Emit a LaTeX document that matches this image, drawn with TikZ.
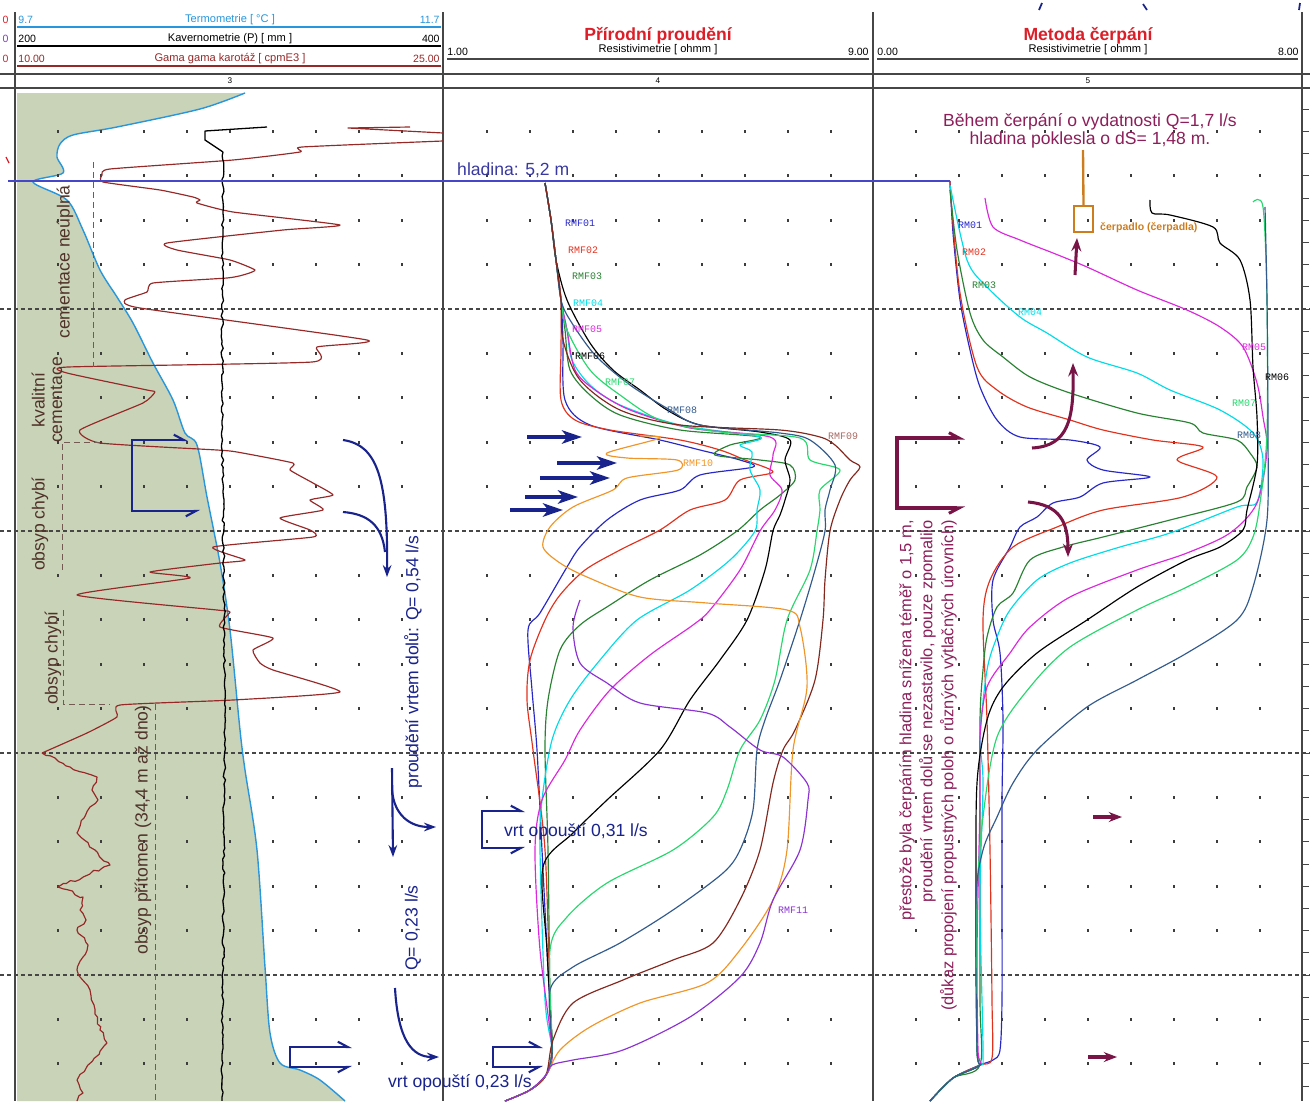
\documentclass[tikz,border=0pt]{standalone}
\usepackage{fontspec}
\setmainfont{Liberation Sans}
\setmonofont{Liberation Mono}
\usetikzlibrary{arrows.meta,decorations.pathmorphing}

\definecolor{thermo}{RGB}{40,150,220}
\definecolor{gamma}{RGB}{150,40,40}
\definecolor{obsypfill}{RGB}{201,211,184}
\definecolor{flowblue}{RGB}{25,35,140}
\definecolor{pumpcol}{RGB}{120,20,70}
\definecolor{pumptext}{RGB}{140,30,90}
\definecolor{pumpbox}{RGB}{205,125,30}
\definecolor{hladcol}{RGB}{70,70,200}
\definecolor{titlered}{RGB}{220,30,40}
\definecolor{labdark}{RGB}{80,50,40}
\definecolor{framegray}{RGB}{70,70,70}
\definecolor{dotcol}{RGB}{60,60,60}
\definecolor{cblue}{RGB}{40,40,200}
\definecolor{cred}{RGB}{225,50,30}
\definecolor{cdgreen}{RGB}{40,130,50}
\definecolor{ccyan}{RGB}{0,220,230}
\definecolor{cmag}{RGB}{220,40,220}
\definecolor{clgreen}{RGB}{40,215,110}
\definecolor{csteel}{RGB}{50,90,140}
\definecolor{cbrown}{RGB}{130,40,30}
\definecolor{corange}{RGB}{240,150,40}
\definecolor{cpurple}{RGB}{140,50,210}

\begin{document}
\begin{tikzpicture}[x=0.3mm, y=-0.3mm,
  hdr/.style={font=\fontsize{9.5}{11}\selectfont, inner sep=1pt},
  val/.style={font=\fontsize{9}{10}\selectfont, inner sep=1pt},
  ttl/.style={font=\fontsize{15}{17}\selectfont\bfseries, text=titlered, inner sep=1pt},
  rmf/.style={font=\fontsize{8.5}{9}\selectfont\ttfamily, anchor=west, inner sep=0pt},
  note/.style={font=\fontsize{15}{17}\selectfont, inner sep=0pt},
  curve/.style={line width=1pt, line join=round},
  frame/.style={draw=framegray, line width=1.2pt},
  level/.style={draw=framegray, line width=1.3pt, dash pattern=on 1.2mm off 0.9mm},
  zone/.style={draw=labdark!80, line width=0.8pt, dash pattern=on 1.8mm off 1.2mm},
  flowline/.style={draw=flowblue, line width=1.8pt},
  flowtip/.style={-{Stealth[length=3.6mm,width=2.6mm,inset=1.2mm]}},
  bigflow/.style={draw=flowblue, line width=3.2pt, -{Stealth[length=6mm,width=4mm,inset=1.6mm]}},
  barbup/.style={-{Straight Barb[left,length=3mm,width=3.2mm]}},
  barbdown/.style={-{Straight Barb[right,length=3mm,width=3.2mm]}},
  pumpline/.style={draw=pumpcol, line width=2.6pt},
  pumptip/.style={-{Stealth[length=4mm,width=3mm,inset=1.4mm]}}]

\useasboundingbox (0,0) rectangle (1310,1101);

%obsyp fill and termometrie
\fill[obsypfill] (17,93) -- plot[smooth, tension=0.5] coordinates {(245,93) (200,109) (117,127) (73,135) (60,144) (57,157) (63,173) (33,182) (67,200) (83,230) (100,270) (117,297) (133,323) (153,363) (173,400) (185,433) (197,445) (207,497) (220,563) (230,630) (240,730) (245,770) (257,850) (265,967) (270,1033) (280,1063) (300,1070) (320,1080) (345,1101)} -- (17,1101) -- cycle;
\draw[curve, thermo, line width=1.2pt] plot[smooth, tension=0.5] coordinates {(245,93) (200,109) (117,127) (73,135) (60,144) (57,157) (63,173) (33,182) (67,200) (83,230) (100,270) (117,297) (133,323) (153,363) (173,400) (185,433) (197,445) (207,497) (220,563) (230,630) (240,730) (245,770) (257,850) (265,967) (270,1033) (280,1063) (300,1070) (320,1080) (345,1101)};

%grid dots
\foreach \off in {0,429,858}
  \foreach \i in {0,...,8}
    \foreach \k in {0,1,2,3,5,6,7,8,10,11,12,13,15,16,17,18,20,21}
      \fill[dotcol] ({58+\off+43*\i-0.8},{131.4+44.4*\k-1.6}) rectangle ++(1.6,3.2);

%depth levels
\foreach \y in {309,531,753,975}
  \draw[level] (0,\y) -- (1310,\y);

%frame
\foreach \x in {15,443,873,1302}
  \draw[frame] (\x,12) -- (\x,1101);
\draw[frame] (0,74) -- (1310,74);
\draw[frame] (0,88) -- (1310,88);
\foreach \k in {1,...,45}
  \draw[framegray, line width=0.8pt] (1302,{87+22.2*\k}) -- ++(7,0);

%header track 3
\draw[thermo, line width=0.9pt] (17,27) -- (441,27);
\draw[black, line width=0.9pt] (17,46) -- (441,46);
\draw[gamma, line width=0.9pt] (17,66) -- (441,66);
\node[val, text=thermo, anchor=west] (tmin) at (17,20) {9.7};
\node[hdr, text=thermo] (tname) at (230,20) {Termometrie [ °C ]};
\node[val, text=thermo, anchor=east] (tmax) at (441,20) {11.7};
\node[val, anchor=west] (kmin) at (17,39) {200};
\node[hdr] (kname) at (230,39) {Kavernometrie (P) [ mm ]};
\node[val, anchor=east] (kmax) at (441,39) {400};
\node[val, text=gamma, anchor=west] (gmin) at (17,59) {10.00};
\node[hdr, text=gamma] (gname) at (230,59) {Gama gama karotáž [ cpmE3 ]};
\node[val, text=gamma, anchor=east] (gmax) at (441,59) {25.00};
\node[val, text=titlered, anchor=east] (cut1) at (10,20) {0};
\node[val, text=cpurple, anchor=east] (cut2) at (10,39) {0};
\node[val, text=titlered, anchor=east] (cut3) at (10,59) {0};

%header track 4
\draw[framegray, line width=0.9pt] (447,59) -- (869,59);
\node[ttl] (natural) at (658,36) {Přírodní proudění};
\node[hdr] (rname4) at (658,50) {Resistivimetrie [ ohmm ]};
\node[val, anchor=west] (rmin4) at (446,52) {1.00};
\node[val, anchor=east] (rmax4) at (870,52) {9.00};

%header track 5
\draw[framegray, line width=0.9pt] (877,59) -- (1298,59);
\node[ttl] (pumping) at (1088,36) {Metoda čerpání};
\node[hdr] (rname5) at (1088,50) {Resistivimetrie [ ohmm ]};
\node[val, anchor=west] (rmin5) at (876,52) {0.00};
\node[val, anchor=east] (rmax5) at (1300,52) {8.00};

%track numbers
\node[val, font=\fontsize{7}{8}\selectfont] (no3) at (230,81) {3};
\node[val, font=\fontsize{7}{8}\selectfont] (no4) at (658,81) {4};
\node[val, font=\fontsize{7}{8}\selectfont] (no5) at (1088,81) {5};
\draw[flowblue, line width=1.5pt] (1042,3) -- (1039,10);
\draw[flowblue, line width=1.5pt] (1143,4) -- (1147,10);
\draw[flowblue, line width=1.5pt] (1300,3) -- (1299,10);

%gama gama
\draw[curve, gamma] (410,127) -- (348,128) -- (443,133);
\draw[curve, gamma] plot[smooth, tension=0.3] coordinates {(443,141) (302,147) (300,152) (233,160) (110,169) (102,175) (103,182) (160,190) (193,197) (200,200) (197,203) (233,212) (340,225) (283,230) (167,243) (177,250) (230,260) (255,270) (243,275) (227,278) (153,283) (147,292) (125,300) (140,308) (367,340) (317,347) (312,362) (68,367) (67,373) (147,390) (155,392) (143,403) (80,430) (100,443) (217,450) (237,452) (293,463) (290,470) (313,483) (333,495) (310,500) (323,510) (280,518) (310,530) (313,537) (213,547) (245,560) (220,563) (150,572) (190,578) (77,595) (217,610) (230,612) (220,627) (273,638) (253,650) (260,663) (273,670) (340,692) (233,700) (120,705) (117,717) (87,733) (42,753)};
\draw[curve, gamma, decorate, decoration={random steps, segment length=1.4mm, amplitude=0.5mm}] (42,753) -- (70,767) -- (97,777) -- (92,790) -- (98,800) -- (90,807) -- (84,818) -- (77,833) -- (95,850) -- (110,865) -- (58,887) -- (83,897) -- (80,910) -- (86,920) -- (77,930) -- (88,945) -- (83,957) -- (77,970) -- (90,990) -- (94,1005) -- (100,1030) -- (107,1043) -- (77,1080) -- (83,1093) -- (77,1101);

%kavernometrie
\draw[curve, black, line width=1.1pt] (267,127) -- (205,131) -- (205,140) -- (223,152);
\draw[curve, black, line width=1.1pt, decorate, decoration={random steps, segment length=1.2mm, amplitude=0.35mm}] (223,152) -- (222,400) -- (225,700) -- (222,1101);

%hladina
\draw[hladcol, line width=1pt] (8,181) -- (950,181);
\draw[titlered, line width=1pt] (6,157) -- (9,163);
\node[note, text=hladcol!80!black, anchor=west] (hladina) at (457,170) {hladina: 5,2 m};

%zones
\draw[zone] (93,162) -- (93,367);
\draw[zone] (100,442) -- (62,442) -- (62,570);
\draw[zone] (63,610) -- (63,704) -- (110,704);
\draw[zone] (155,704) -- (155,1101);
\node[note, rotate=90, text=labdark] (cemneu) at (65,262) {cementace neúplná};
\node[note, rotate=90, text=labdark, align=center, font=\fontsize{15}{15}\selectfont] (cemok) at (47,400) {kvalitní\\cementace};
\node[note, rotate=90, text=labdark] (obsyp1) at (40,524) {obsyp chybí};
\node[note, rotate=90, text=labdark] (obsyp2) at (53,658) {obsyp chybí};
\node[note, rotate=90, text=labdark] (obsyp3) at (143,830) {obsyp přítomen (34,4 m až dno)};

%flow in track 3
\draw[flowline, barbup] (132,475) -- (132,440) -- (188,440);
\draw[flowline, barbdown] (132,475) -- (132,511) -- (200,511);
\draw[flowline, flowtip] (343,440) .. controls (378,445) and (388,480) .. (387,577);
\draw[flowline] (343,512) .. controls (368,514) and (382,525) .. (385,552);
\draw[flowline, flowtip] (392,768) -- (393,857);
\draw[flowline, flowtip] (392,790) .. controls (394,815) and (410,827) .. (436,827);
\draw[flowline, flowtip] (395,988) .. controls (398,1040) and (412,1057) .. (439,1057);
\draw[flowline, barbup] (290,1057) -- (290,1047) -- (352,1047);
\draw[flowline, barbdown] (290,1057) -- (290,1067) -- (352,1067);
\node[note, rotate=90, text=flowblue] (down054) at (413,662) {proudění vrtem dolů: Q= 0,54 l/s};
\node[note, rotate=90, text=flowblue] (down023) at (413,928) {Q= 0,23 l/s};
\node[note, text=flowblue] (out023) at (460,1083) {vrt opouští 0,23 l/s};

%RMF curves
\draw[curve, cblue] plot[smooth, tension=0.5] coordinates {(545,183) (551,220) (556,260) (561,300) (563,340) (565,400) (590,425) (660,440) (700,450) (740,460) (753,467) (700,475) (680,490) (640,500) (607,520) (580,547) (567,567) (540,613) (528,630) (532,690) (537,750) (542,850) (548,970) (552,1050) (546,1075) (530,1090) (505,1101)};
\draw[curve, cred] plot[smooth, tension=0.5] coordinates {(545,183) (551,220) (556,260) (561,300) (561,350) (561,400) (575,420) (610,430) (680,440) (720,450) (745,460) (773,472) (740,480) (725,500) (690,510) (660,530) (620,550) (585,570) (560,595) (545,620) (530,660) (527,700) (533,750) (545,850) (550,1000) (552,1050) (546,1075) (530,1090) (505,1101)};
\draw[curve, cdgreen] plot[smooth, tension=0.5] coordinates {(545,183) (551,220) (556,260) (561,300) (565,330) (570,370) (590,395) (620,415) (680,430) (760,437) (730,445) (715,455) (760,460) (790,465) (795,480) (780,495) (760,510) (737,531) (700,555) (650,580) (610,605) (580,625) (560,650) (548,700) (545,750) (548,850) (550,1000) (552,1050) (546,1075) (530,1090) (505,1101)};
\draw[curve, ccyan] plot[smooth, tension=0.5] coordinates {(545,183) (551,220) (556,260) (561,300) (567,330) (572,360) (590,385) (620,405) (680,425) (760,437) (740,445) (752,452) (750,470) (760,490) (757,510) (755,531) (730,560) (690,590) (637,620) (600,660) (570,700) (552,740) (542,800) (540,850) (545,1000) (552,1050) (546,1075) (530,1090) (505,1101)};
\draw[curve, cmag] plot[smooth, tension=0.5] coordinates {(545,183) (551,220) (556,260) (561,300) (567,330) (575,370) (595,390) (630,410) (690,428) (770,437) (773,455) (770,475) (782,490) (775,510) (760,531) (740,570) (710,610) (693,625) (650,655) (610,690) (580,730) (565,760) (542,800) (535,850) (540,950) (552,1050) (546,1075) (530,1090) (505,1101)};
\draw[curve, black] plot[smooth, tension=0.5] coordinates {(545,183) (551,220) (556,260) (567,300) (590,343) (613,370) (640,390) (667,410) (700,425) (760,432) (790,440) (785,460) (790,480) (785,500) (780,515) (773,531) (765,570) (747,620) (720,660) (690,700) (660,750) (607,800) (573,833) (543,867) (547,950) (552,1050) (546,1075) (530,1090) (505,1101)};
\draw[curve, clgreen] plot[smooth, tension=0.5] coordinates {(545,183) (551,220) (556,260) (561,300) (567,330) (590,370) (620,395) (660,420) (720,432) (800,438) (810,460) (840,470) (820,490) (820,510) (817,531) (810,570) (787,620) (775,680) (760,720) (740,750) (727,790) (713,817) (673,850) (607,883) (567,917) (550,950) (552,1050) (546,1075) (530,1090) (505,1101)};
\draw[curve, csteel] plot[smooth, tension=0.5] coordinates {(545,183) (551,220) (556,260) (561,300) (570,320) (595,355) (630,385) (670,410) (700,425) (780,433) (810,440) (835,465) (830,490) (825,510) (825,531) (815,570) (800,620) (780,680) (765,720) (757,750) (753,810) (740,850) (723,873) (673,910) (620,943) (573,967) (550,990) (552,1050) (546,1075) (530,1090) (505,1101)};
\draw[curve, cbrown] plot[smooth, tension=0.5] coordinates {(545,183) (551,220) (556,260) (561,300) (563,340) (580,380) (620,410) (680,425) (780,430) (820,437) (835,445) (850,460) (860,467) (850,480) (840,500) (830,531) (825,580) (823,620) (815,680) (795,730) (783,750) (773,783) (760,850) (740,900) (713,943) (673,960) (623,980) (573,1003) (553,1040) (546,1075) (530,1090) (505,1101)};
\draw[curve, corange] plot[smooth, tension=0.5] coordinates {(640,436) (660,438) (607,453) (627,458) (677,460) (678,470) (627,478) (613,490) (573,507) (550,527) (543,547) (560,563) (587,577) (640,597) (707,603) (787,610) (800,627) (807,687) (793,750) (787,850) (773,900) (740,950) (707,983) (640,1003) (590,1027) (560,1050) (546,1075) (530,1090) (505,1101)};
\draw[curve, cpurple] plot[smooth, tension=0.5] coordinates {(580,600) (573,627) (580,663) (607,683) (640,703) (707,713) (730,727) (760,750) (783,757) (807,783) (808,800) (800,850) (773,900) (760,943) (740,977) (690,1017) (623,1050) (573,1060) (552,1065) (546,1075) (530,1090) (505,1101)};

%RMF labels
\node[rmf, text=cblue] (rmf01) at (565,223) {RMF01};
\node[rmf, text=cred] (rmf02) at (568,250) {RMF02};
\node[rmf, text=cdgreen] (rmf03) at (572,276) {RMF03};
\node[rmf, text=ccyan] (rmf04) at (573,303) {RMF04};
\node[rmf, text=cmag] (rmf05) at (572,329) {RMF05};
\node[rmf, text=black] (rmf06) at (575,356) {RMF06};
\node[rmf, text=clgreen] (rmf07) at (605,382) {RMF07};
\node[rmf, text=csteel] (rmf08) at (667,410) {RMF08};
\node[rmf, text=cbrown!70] (rmf09) at (828,436) {RMF09};
\node[rmf, text=corange] (rmf10) at (683,463) {RMF10};
\node[rmf, text=cpurple] (rmf11) at (778,910) {RMF11};

%flow in track 4
\draw[bigflow] (527,437) -- (582,437);
\draw[bigflow] (557,463) -- (617,463);
\draw[bigflow] (540,478) -- (610,478);
\draw[bigflow] (525,497) -- (578,497);
\draw[bigflow] (510,510) -- (563,510);
\draw[flowline, barbup] (482,830) -- (482,811) -- (525,811);
\draw[flowline, barbdown] (482,830) -- (482,848) -- (525,848);
\draw[flowline, barbup] (493,1057) -- (493,1047) -- (543,1047);
\draw[flowline, barbdown] (493,1057) -- (493,1067) -- (543,1067);
\node[note, text=flowblue] (out031) at (576,832) {vrt opouští 0,31 l/s};

%RM curves
\draw[curve, cblue] plot[smooth, tension=0.5] coordinates {(950,181) (953,233) (960,300) (970,350) (980,387) (997,420) (1020,437) (1070,440) (1100,447) (1087,460) (1103,470) (1150,477) (1103,483) (1080,497) (1053,503) (1037,517) (1020,527) (1010,547) (993,580) (993,620) (1000,653) (1003,720) (1002,800) (1002,900) (1002,1000) (1000,1050) (993,1060) (980,1065) (953,1078) (930,1101)};
\draw[curve, cred] plot[smooth, tension=0.5] coordinates {(950,181) (951,200) (960,293) (977,367) (997,390) (1027,407) (1070,420) (1103,430) (1153,440) (1203,447) (1177,460) (1217,477) (1183,497) (1103,510) (1057,527) (1013,547) (990,580) (983,620) (987,720) (990,850) (992,1000) (992,1058) (980,1065) (953,1078) (930,1101)};
\draw[curve, cdgreen] plot[smooth, tension=0.5] coordinates {(950,190) (957,250) (970,313) (983,340) (1003,357) (1030,377) (1070,393) (1137,413) (1190,423) (1203,433) (1237,440) (1250,453) (1257,467) (1247,487) (1237,502) (1170,520) (1103,537) (1063,547) (1030,560) (1013,593) (997,607) (987,637) (983,670) (980,720) (980,850) (980,1000) (980,1065) (953,1078) (930,1101)};
\draw[curve, ccyan] plot[smooth, tension=0.5] coordinates {(950,185) (967,260) (987,287) (1020,317) (1047,333) (1087,357) (1137,373) (1170,390) (1220,410) (1253,433) (1263,460) (1257,502) (1237,507) (1170,533) (1120,547) (1070,563) (1037,580) (1010,610) (997,637) (987,670) (980,737) (983,783) (980,900) (983,1050) (980,1065) (953,1078) (930,1101)};
\draw[curve, cmag] plot[smooth, tension=0.5] coordinates {(985,198) (993,227) (1020,240) (1053,253) (1087,267) (1137,290) (1187,310) (1220,327) (1243,347) (1257,383) (1263,417) (1267,450) (1257,503) (1230,533) (1187,553) (1137,570) (1070,597) (1030,627) (1010,653) (987,687) (980,737) (980,800) (977,950) (978,1050) (980,1065) (953,1078) (930,1101)};
\draw[curve, black] plot[smooth, tension=0.5] coordinates {(1150,200) (1152,213) (1170,215) (1213,227) (1220,243) (1240,260) (1250,300) (1253,367) (1257,417) (1257,465) (1247,510) (1243,530) (1220,547) (1187,560) (1137,587) (1087,620) (1037,653) (1003,687) (987,720) (977,783) (976,900) (977,1050) (980,1065) (953,1078) (930,1101)};
\draw[curve, clgreen] plot[smooth, tension=0.5] coordinates {(1253,202) (1263,207) (1267,300) (1267,433) (1260,503) (1253,537) (1237,560) (1187,587) (1137,610) (1070,647) (1030,687) (997,737) (983,817) (977,900) (977,1050) (980,1065) (953,1078) (930,1101)};
\draw[curve, csteel] plot[smooth, tension=0.5] coordinates {(1265,207) (1267,300) (1268,433) (1267,520) (1253,587) (1237,620) (1187,653) (1137,680) (1087,707) (1037,750) (1013,783) (997,817) (983,850) (976,900) (977,1050) (980,1065) (953,1078) (930,1101)};

%RM labels
\node[rmf, text=cblue] (rm01) at (958,225) {RM01};
\node[rmf, text=cred] (rm02) at (962,252) {RM02};
\node[rmf, text=cdgreen] (rm03) at (972,285) {RM03};
\node[rmf, text=ccyan] (rm04) at (1018,312) {RM04};
\node[rmf, text=cmag] (rm05) at (1242,347) {RM05};
\node[rmf, text=black] (rm06) at (1265,377) {RM06};
\node[rmf, text=clgreen] (rm07) at (1232,403) {RM07};
\node[rmf, text=csteel] (rm08) at (1237,435) {RM08};

%pump
\node[note, text=pumptext, align=center, font=\fontsize{15}{15.5}\selectfont] (pumpnote) at (1090,131) {Během čerpání o vydatnosti Q=1,7 l/s\\hladina poklesla o dS= 1,48 m.};
\node[draw=pumpbox, line width=2pt, minimum width=5.7mm, minimum height=7.8mm, inner sep=0pt] (pumpunit) at (1083.5,219) {};
\draw[pumpbox, line width=2pt] (1083,150) -- (pumpunit.north);
\node[anchor=west, text=pumpbox, font=\fontsize{9}{10}\selectfont\bfseries, inner sep=0pt] (pumplab) at (1100,228) {čerpadlo (čerpadla)};
\draw[pumpline, pumptip] (1075,275) -- (1077,238);
\draw[pumpline, pumptip] (1032,448) .. controls (1068,446) and (1074,420) .. (1073,363);
\draw[pumpline, pumptip] (1028,502) .. controls (1060,505) and (1068,522) .. (1068,557);
\draw[pumpline, barbup] (897,473) -- (897,438) -- (965,438);
\draw[pumpline, barbdown] (897,473) -- (897,508) -- (965,508);
\draw[pumpline, pumptip] (1093,817) -- (1122,817);
\draw[pumpline, pumptip] (1088,1057) -- (1117,1057);
\node[rotate=90, anchor=north east, align=right, text=pumptext, font=\fontsize{14}{18}\selectfont, inner sep=0pt] (pumpremark) at (899,520) {přestože byla čerpáním hladina snížena téměř o 1,5 m,\\proudění vrtem dolů se nezastavilo, pouze zpomalilo\\(důkaz propojení propustných poloh o různých výtlačných úrovních)};

\end{tikzpicture}
\end{document}
